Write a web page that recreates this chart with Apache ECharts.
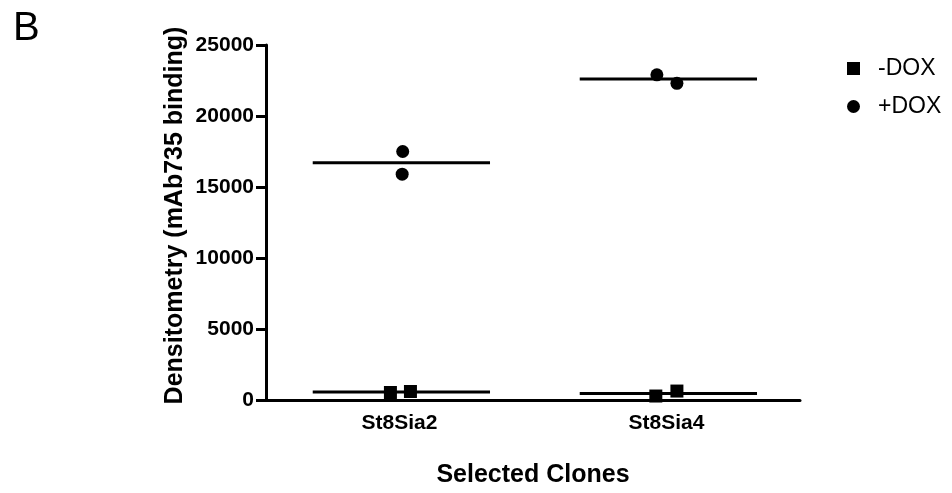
<!DOCTYPE html>
<html>
<head>
<meta charset="utf-8">
<script src="https://cdn.jsdelivr.net/npm/echarts@6/dist/echarts.min.js"></script>
<style>html,body{margin:0;padding:0;background:#fff}#c{width:952px;height:493px}</style>
</head>
<body>
<div id="c"></div>
<script>
// ---- data ----
var categories = ['St8Sia2', 'St8Sia4'];
var minusDox = [[530, 600], [280, 630]];        // -DOX replicate values per clone
var plusDox = [[17500, 15900], [22900, 22300]]; // +DOX replicate values per clone
var jitterMinus = [[-0.034, 0.041], [-0.04, 0.039]];
var jitterPlus = [[0.012, 0.01], [-0.036, 0.039]];
var yTicks = [0, 5000, 10000, 15000, 20000, 25000];

var FONT = 'Liberation Sans, Arial, Helvetica, sans-serif';
function mean(a) { return a.reduce(function (s, v) { return s + v; }, 0) / a.length; }

function pts(vals, jit) {
  var out = [];
  vals.forEach(function (arr, i) {
    arr.forEach(function (v, j) { out.push([i + 0.5 + jit[i][j], v]); });
  });
  return out;
}
var HW = 0.332, SHIFT = 0.007;
var meanSeries = [];
[minusDox, plusDox].forEach(function (grp) {
  grp.forEach(function (arr, i) {
    var m = mean(arr), c = i + 0.5 + SHIFT;
    meanSeries.push({
      type: 'line', xAxisIndex: 1, yAxisIndex: 0, symbol: 'none', silent: true,
      data: [[c - HW, m], [c + HW, m]],
      lineStyle: { color: '#000', width: 3 }, z: 3
    });
  });
});

var chart = echarts.init(document.getElementById('c'));
chart.setOption({
  animation: false,
  backgroundColor: '#fff',
  title: { text: 'B', left: 8, top: 4, textStyle: { fontFamily: FONT, fontSize: 40, fontWeight: 'normal', color: '#000' } },
  legend: {
    data: [{ name: '-DOX', icon: 'rect' }, { name: '+DOX', icon: 'circle' }],
    orient: 'vertical', left: 842, top: 52, itemWidth: 13, itemHeight: 13, itemGap: 15,
    textStyle: { fontFamily: FONT, fontSize: 23, color: '#000', padding: [0, 0, 0, 13] }
  },
  grid: { left: 266, right: 152, top: 45, bottom: 92 },
  xAxis: [{
    type: 'category', data: categories, position: 'bottom',
    name: 'Selected Clones', nameLocation: 'middle', nameGap: 63, nameMoveOverlap: false,
    nameTextStyle: { fontFamily: FONT, fontSize: 25, fontWeight: 'bold', color: '#000' },
    axisLine: { lineStyle: { color: '#000', width: 3 } },
    axisTick: { alignWithLabel: true, length: 7, lineStyle: { color: '#000', width: 3 } },
    axisLabel: { margin: 13, fontFamily: FONT, fontSize: 21, fontWeight: 'bold', color: '#000' },
    splitLine: { show: false }
  }, {
    type: 'value', min: 0, max: 2, show: false
  }],
  yAxis: {
    type: 'value', min: 0, max: 25000, interval: 5000,
    name: 'Densitometry (mAb735 binding)', nameLocation: 'middle', nameGap: 78, nameMoveOverlap: false,
    nameTextStyle: { fontFamily: FONT, fontSize: 25, fontWeight: 'bold', color: '#000', padding: [0, 0, 0, 14] },
    axisLine: { show: true, lineStyle: { color: '#000', width: 3 } },
    axisTick: { show: true, length: 10, lineStyle: { color: '#000', width: 3 } },
    axisLabel: { margin: 12, fontFamily: FONT, fontSize: 21, fontWeight: 'bold', color: '#000',
      formatter: function (v) { return yTicks.indexOf(v) >= 0 ? String(v) : ''; } },
    splitLine: { show: false }
  },
  series: [{
    name: '-DOX', type: 'scatter', xAxisIndex: 1, symbol: 'rect', symbolSize: 13,
    itemStyle: { color: '#000', opacity: 1 }, data: pts(minusDox, jitterMinus), z: 4
  }, {
    name: '+DOX', type: 'scatter', xAxisIndex: 1, symbol: 'circle', symbolSize: 13,
    itemStyle: { color: '#000', opacity: 1 }, data: pts(plusDox, jitterPlus), z: 4
  }].concat(meanSeries)
});
</script>
</body>
</html>
